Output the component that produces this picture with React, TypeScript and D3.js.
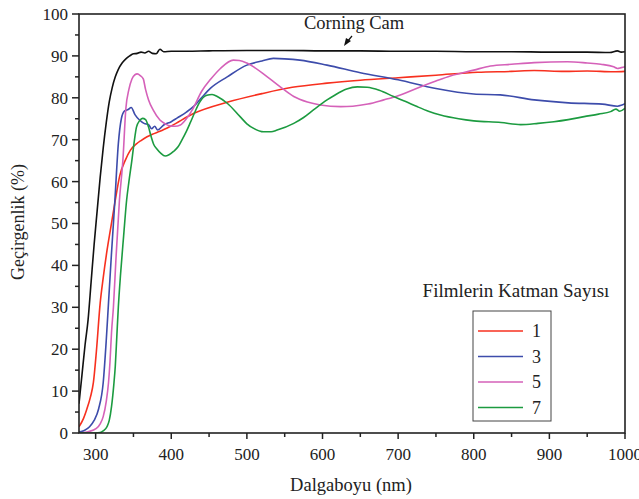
import * as d3 from 'd3';

// wavelength (nm), transmittance (%)
const glass: [number, number][] = [
  [278, 7], [282, 14], [286, 21], [290, 27], [294, 36], [298, 45], [302, 53], [306, 61],
  [310, 68], [314, 74], [318, 79], [322, 82.5], [326, 85], [330, 86.8], [335, 88.3],
  [340, 89.3], [345, 90], [350, 90.5], [355, 90.6], [360, 90.9], [365, 90.7], [370, 91.1],
  [375, 90.6], [380, 90.5], [385, 91.6], [390, 91], [400, 91.1], [420, 91.1], [450, 91.2],
  [500, 91.3], [550, 91.3], [600, 91.2], [650, 91.2], [700, 91.1], [750, 91.1], [800, 91],
  [850, 91], [900, 90.9], [950, 90.9], [980, 90.8], [990, 91.2], [995, 90.9], [1000, 91],
];

const layer1: [number, number][] = [
  [278, 1.5], [284, 3.5], [288, 5.5], [293, 8.5], [297, 12], [301, 19.5], [306, 31],
  [310, 37], [315, 43.5], [320, 49], [326, 55.6], [332, 61.5], [339, 65], [346, 67.5],
  [354, 69], [360, 69.8], [368, 70.7], [375, 71.3], [385, 72], [400, 73.3], [430, 76.3],
  [475, 79], [520, 81], [560, 82.5], [606, 83.5], [650, 84.2], [700, 84.8], [750, 85.4],
  [805, 86.1], [850, 86.3], [880, 86.5], [920, 86.3], [950, 86.4], [985, 86.2], [1000, 86.3],
];

const layer3: [number, number][] = [
  [278, 0.2], [285, 0.6], [292, 1.5], [298, 3], [304, 5.8], [310, 12], [314, 22], [317, 31],
  [321, 43], [325.5, 55.6], [330, 69], [334, 75], [338, 76.8], [343, 77.2], [347, 77.7],
  [352, 76], [358, 74.7], [364, 73.9], [370, 73.6], [374, 72.6], [378, 73.2], [382, 72.3],
  [390, 73.5], [400, 74.3], [408, 75.2], [420, 76.6], [430, 78], [440, 80], [452, 82.3],
  [474, 85], [500, 87.8], [520, 88.8], [535, 89.4], [550, 89.3], [570, 89], [606, 87.8],
  [650, 86], [700, 84.3], [750, 82.2], [800, 80.9], [835, 80.7], [880, 79.5], [925, 78.8],
  [970, 78.5], [990, 78], [995, 78.2], [1000, 78.6],
];

const layer5: [number, number][] = [
  [278, 0], [290, 0.3], [301, 1.1], [306, 2.2], [310, 3.9], [314, 7.5], [317, 12], [319, 17],
  [321, 24], [323.5, 30], [327, 42], [331.5, 55.6], [336, 65], [340, 77.5], [344, 82],
  [348, 84.5], [352, 85.5], [355, 85.7], [359, 85.3], [363, 84.5], [366, 82], [370, 79.5],
  [376, 77.1], [385, 74.7], [392, 73.8], [398, 73.3], [405, 73.2], [412, 73.5], [420, 75],
  [429, 77.5], [440, 81.5], [452, 84.4], [465, 87], [482, 89], [490, 88.9], [500, 88.3],
  [527, 85], [545, 82.5], [562, 80.3], [580, 79], [597, 78.3], [624, 77.9], [640, 78],
  [660, 78.5], [681, 79.5], [700, 80.5], [725, 82.3], [750, 84], [769, 85.2], [800, 86.6],
  [822, 87.6], [850, 88], [880, 88.4], [924, 88.6], [950, 88.3], [968, 88], [985, 87.4],
  [990, 87], [995, 87.2], [1000, 87.4],
];

const layer7: [number, number][] = [
  [278, 0], [300, 0], [306, 0.1], [310, 0.5], [315, 1.5], [318, 3], [321, 6.3], [324, 11.5],
  [326, 16], [328, 23], [330, 30], [333, 38], [337, 47], [341, 55.6], [344, 60], [348, 65.2],
  [351, 69.5], [354, 73], [358, 74.5], [362, 75.1], [366, 74.8], [370, 73], [373, 71],
  [377, 68.8], [381, 67.8], [386, 66.8], [392, 66.1], [397, 66.4], [403, 67.2], [409, 68.3],
  [414, 69.9], [420, 72], [425, 74], [431, 76.5], [437, 78.8], [447, 80.6], [454, 80.8],
  [462, 80.2], [474, 78.7], [491, 75.5], [500, 73.8], [509, 72.7], [522, 71.9], [532, 71.9],
  [540, 72.3], [562, 73.9], [575, 75.3], [588, 77.1], [606, 79.5], [615, 80.5], [632, 82.1],
  [646, 82.6], [659, 82.5], [675, 81.8], [694, 80.3], [710, 79.1], [725, 77.9], [740, 76.8],
  [756, 75.9], [780, 75], [800, 74.5], [836, 74.1], [862, 73.6], [885, 73.9], [906, 74.3],
  [925, 74.8], [946, 75.5], [965, 76.1], [981, 76.7], [988, 77.3], [993, 76.8], [1000, 77.5],
];

const layerLabels = ['1', '3', '5', '7'];
const layerColors = ['#F7301F', '#3D4CAB', '#D561B9', '#1C9B40'];
const layerData = [layer1, layer3, layer5, layer7];

const xMajor = [300, 400, 500, 600, 700, 800, 900, 1000];
const xMinor = [350, 450, 550, 650, 750, 850, 950];
const yMajor = [0, 10, 20, 30, 40, 50, 60, 70, 80, 90, 100];
const yMinor = [5, 15, 25, 35, 45, 55, 65, 75, 85, 95];

const font = '"Liberation Serif", "Times New Roman", serif';

export default function App() {
  const W = 639, H = 499;
  const m = { left: 79, right: 625, top: 14, bottom: 433 };

  const x = d3.scaleLinear().domain([278, 1000]).range([m.left, m.right]);
  const y = d3.scaleLinear().domain([0, 100]).range([m.bottom, m.top]);

  const line = d3.line<[number, number]>()
    .x(d => x(d[0]))
    .y(d => y(d[1]))
    .curve(d3.curveMonotoneX);

  const legX = 473, legY = 311;

  return (
    <svg width={W} height={H} style={{ position: 'absolute', left: 0, top: 0, background: '#fff' }}
      fontFamily={font}>
      <defs>
        <clipPath id="plot">
          <rect x={m.left} y={m.top} width={m.right - m.left} height={m.bottom - m.top} />
        </clipPath>
      </defs>

      <g clipPath="url(#plot)" fill="none" strokeWidth={1.6} strokeLinejoin="round">
        <path d={line(glass) || ''} stroke="#111" />
        {layerData.map((s, i) => (
          <path key={i} d={line(s) || ''} stroke={layerColors[i]} />
        ))}
      </g>

      {/* frame */}
      <rect x={m.left} y={m.top} width={m.right - m.left} height={m.bottom - m.top}
        fill="none" stroke="#222" strokeWidth={1.6} />

      {/* x ticks */}
      {xMajor.map(v => (
        <g key={v}>
          <line x1={x(v)} x2={x(v)} y1={m.bottom} y2={m.bottom + 6} stroke="#222" strokeWidth={1.5} />
          <text x={x(v)} y={m.bottom + 27} textAnchor="middle" fontSize={17} fill="#222">{v}</text>
        </g>
      ))}
      {xMinor.map(v => (
        <line key={v} x1={x(v)} x2={x(v)} y1={m.bottom} y2={m.bottom + 4} stroke="#222" strokeWidth={1.5} />
      ))}

      {/* y ticks */}
      {yMajor.map(v => (
        <g key={v}>
          <line x1={m.left - 7} x2={m.left} y1={y(v)} y2={y(v)} stroke="#222" strokeWidth={1.5} />
          <text x={m.left - 11} y={y(v)} dy="0.35em" textAnchor="end" fontSize={17} fill="#222">{v}</text>
        </g>
      ))}
      {yMinor.map(v => (
        <line key={v} x1={m.left - 4} x2={m.left} y1={y(v)} y2={y(v)} stroke="#222" strokeWidth={1.5} />
      ))}

      {/* axis titles */}
      <text x={351} y={491} textAnchor="middle" fontSize={18.5} fill="#222">Dalgaboyu (nm)</text>
      <text transform="translate(24,222) rotate(-90)" textAnchor="middle" fontSize={18} fill="#222">Geçirgenlik (%)</text>

      {/* annotation */}
      <text x={304} y={29} fontSize={18.5} fill="#222">Corning Cam</text>
      <line x1={352} y1={36} x2={347} y2={42} stroke="#111" strokeWidth={1.2} />
      <path d="M344,46 L346,38 L351,41 Z" fill="#111" />

      {/* legend */}
      <text x={516} y={297} textAnchor="middle" fontSize={19} fill="#222">Filmlerin Katman Sayısı</text>
      <rect x={legX} y={legY} width={78} height={110} fill="#fff" stroke="#444" strokeWidth={1} />
      {layerLabels.map((lab, i) => {
        const ly = legY + 20 + i * 25.5;
        return (
          <g key={lab}>
            <line x1={478} x2={523} y1={ly} y2={ly} stroke={layerColors[i]} strokeWidth={1.6} />
            <text x={532} y={ly} dy="0.35em" fontSize={18} fill="#222">{lab}</text>
          </g>
        );
      })}
    </svg>
  );
}
